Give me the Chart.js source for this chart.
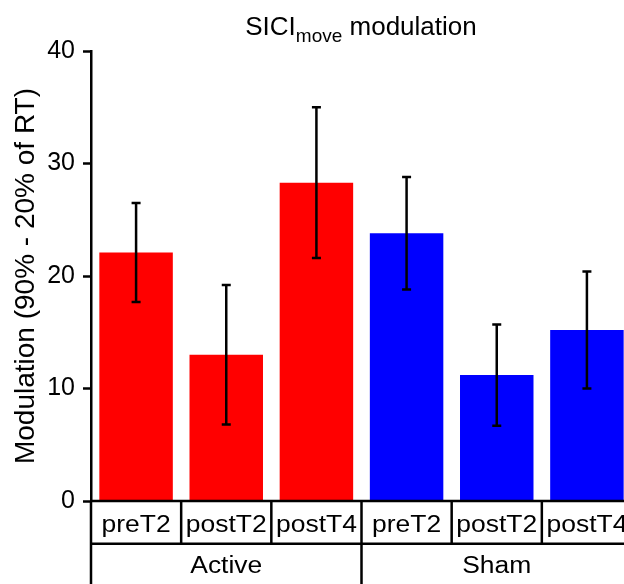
<!DOCTYPE html>
<html>
<head>
<meta charset="utf-8">
<script src="https://cdn.jsdelivr.net/npm/chart.js@4"></script>
<style>
  html, body { margin: 0; padding: 0; background: #fff; }
  #wrap { position: relative; width: 624px; height: 584px; overflow: hidden; }
  #title {
    position: absolute; left: 361px; top: 13px; transform: translateX(-50%);
    font: 26px "Liberation Sans", Arial, sans-serif; line-height: 1; white-space: nowrap; color: #000;
  }
  #title sub { font-size: 19px; vertical-align: -7px; }
  canvas { position: absolute; left: 0; top: 0; }
</style>
</head>
<body>
<div id="wrap">
  <canvas id="chart" width="640" height="584"></canvas>
  <div id="title">SICI<sub>move</sub> modulation</div>
</div>
<script>
// ── Data ─────────────────────────────────────────────────────
const GROUPS     = ['Active', 'Sham'];
const TIMEPOINTS = ['preT2', 'postT2', 'postT4'];
const LABELS     = ['preT2', 'postT2', 'postT4', 'preT2', 'postT2', 'postT4'];
const MEANS      = [22.1, 13.0, 28.3, 23.8, 11.2, 15.2];
const ERRORS     = [4.4, 6.2, 6.7, 5.0, 4.5, 5.2];
const Y_TICKS    = [0, 10, 20, 30, 40];

const GROUP_COLORS = { Active: '#ff0000', Sham: '#0000ff' };
const FONT = '"Liberation Sans", Arial, sans-serif';
const LINE_W = 2.5;

const barColors = LABELS.map((_, i) => GROUP_COLORS[GROUPS[Math.floor(i / TIMEPOINTS.length)]]);

// ── Error bars ───────────────────────────────────────────────
const errorBars = {
  id: 'errorBars',
  afterDatasetsDraw(chart) {
    const { ctx } = chart;
    const y = chart.scales.y;
    const meta = chart.getDatasetMeta(0);
    ctx.save();
    ctx.strokeStyle = '#000';
    ctx.lineWidth = LINE_W;
    meta.data.forEach((bar, i) => {
      const top = y.getPixelForValue(MEANS[i] + ERRORS[i]);
      const bot = y.getPixelForValue(MEANS[i] - ERRORS[i]);
      ctx.beginPath();
      ctx.moveTo(bar.x, top); ctx.lineTo(bar.x, bot);
      ctx.moveTo(bar.x - 4.5, top); ctx.lineTo(bar.x + 4.5, top);
      ctx.moveTo(bar.x - 4.5, bot); ctx.lineTo(bar.x + 4.5, bot);
      ctx.stroke();
    });
    ctx.restore();
  },
};

// ── Category table under the x axis ──────────────────────────
const categoryTable = {
  id: 'categoryTable',
  afterDraw(chart) {
    const { ctx, width, height } = chart;
    const xs = chart.scales.x;
    const base = chart.scales.y.getPixelForValue(0);
    const row1 = base + 42.7;
    const cw = (xs.right - xs.left) / LABELS.length;
    const edge = (k) => xs.left + k * cw;

    ctx.save();
    ctx.strokeStyle = '#000';
    ctx.lineWidth = LINE_W;
    ctx.beginPath();
    ctx.moveTo(xs.left - 1, base); ctx.lineTo(width, base);
    ctx.moveTo(xs.left, row1); ctx.lineTo(width, row1);
    for (let k = 0; k <= LABELS.length; k++) {
      const isGroupEdge = k % TIMEPOINTS.length === 0;
      ctx.moveTo(edge(k), base);
      ctx.lineTo(edge(k), isGroupEdge ? height : row1);
    }
    ctx.stroke();

    ctx.fillStyle = '#000';
    ctx.textAlign = 'center';
    ctx.textBaseline = 'alphabetic';
    ctx.font = '23px ' + FONT;
    LABELS.forEach((lab, i) => {
      ctx.save();
      ctx.translate(edge(i) + cw / 2, base + 30.7);
      ctx.scale(1.15, 1);
      ctx.fillText(lab, 0, 0);
      ctx.restore();
    });
    GROUPS.forEach((g, j) => {
      const cx = (edge(j * TIMEPOINTS.length) + edge((j + 1) * TIMEPOINTS.length)) / 2;
      ctx.save();
      ctx.translate(cx, base + 72.3);
      ctx.scale(1.15, 1);
      ctx.fillText(g, 0, 0);
      ctx.restore();
    });
    ctx.restore();
  },
};

// ── Chart ────────────────────────────────────────────────────
new Chart(document.getElementById('chart').getContext('2d'), {
  type: 'bar',
  data: {
    labels: LABELS,
    datasets: [{
      data: MEANS,
      backgroundColor: barColors,
      borderWidth: 0,
      barPercentage: 0.815,
      categoryPercentage: 1,
    }],
  },
  options: {
    responsive: false,
    animation: false,
    events: [],
    layout: { padding: { top: 51, right: 8, bottom: 83, left: 0 } },
    plugins: { legend: { display: false }, tooltip: { enabled: false }, title: { display: false } },
    scales: {
      x: { display: false, offset: true },
      y: {
        min: 0, max: 40,
        afterFit: (scale) => { scale.width = 91; },
        afterBuildTicks: (scale) => { scale.ticks = Y_TICKS.map(v => ({ value: v })); },
        border: { display: true, color: '#000', width: LINE_W },
        grid: { drawOnChartArea: false, tickLength: 8, tickColor: '#000', tickWidth: LINE_W },
        ticks: { color: '#000', padding: 8, font: { family: FONT, size: 25 } },
        title: {
          display: true,
          text: 'Modulation (90% - 20% of RT)',
          color: '#000',
          font: { family: FONT, size: 28 },
          padding: { top: 9, bottom: 0 },
        },
      },
    },
  },
  plugins: [errorBars, categoryTable],
});
</script>
</body>
</html>
